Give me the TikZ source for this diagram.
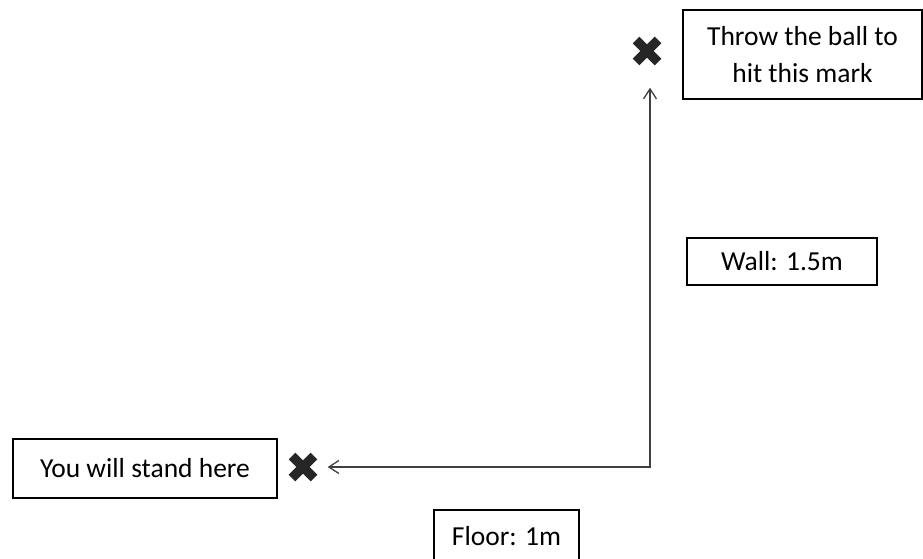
\documentclass[tikz,border=0pt]{standalone}
\usepackage{fontspec}
\setmainfont{Carlito}
\usetikzlibrary{arrows.meta}
\begin{document}
\begin{tikzpicture}[x=1pt, y=-1pt,
  box/.style={draw, line width=1.6pt, inner sep=0pt, align=center,
    font=\fontsize{27.5}{37}\selectfont},
  crossmark/.style={minimum size=29pt, inner sep=0pt,
    path picture={\draw[line width=9.5pt, black!85]
      ([shift={(-11pt,-11pt)}]path picture bounding box.center) --
      ([shift={(11pt,11pt)}]path picture bounding box.center)
      ([shift={(-11pt,11pt)}]path picture bounding box.center) --
      ([shift={(11pt,-11pt)}]path picture bounding box.center);}},
  track/.style={black!75, line width=1.3pt,
    {Straight Barb[length=10pt,width=13pt]}-{Straight Barb[length=10pt,width=13pt]}}]
\useasboundingbox (0,0) rectangle (923,558);

\def\xc{650};
\def\yc{467};

% labels
\node[box, minimum width=239pt, minimum height=89pt] (target) at (802.5,54.5) {Throw the ball to\\hit this mark};
\node[box, minimum width=190pt, minimum height=47pt] (wall) at (782,261.5) {Wall: 1.5m};
\node[box, minimum width=264pt, minimum height=59pt] (stand) at (145,468.5) {You will stand here};
\node[box, minimum width=145pt, minimum height=52pt] (floor) at (506.5,536) {Floor: 1m};

% the two marks
\node[crossmark] (mark) at (647,51) {};
\node[crossmark] (here) at (303,\yc) {};

% floor then wall
\coordinate (corner) at (\xc,\yc);
\draw[track, shorten <=10pt, shorten >=22pt] (here) -- (corner) -- (corner |- mark.south);

\end{tikzpicture}
\end{document}
